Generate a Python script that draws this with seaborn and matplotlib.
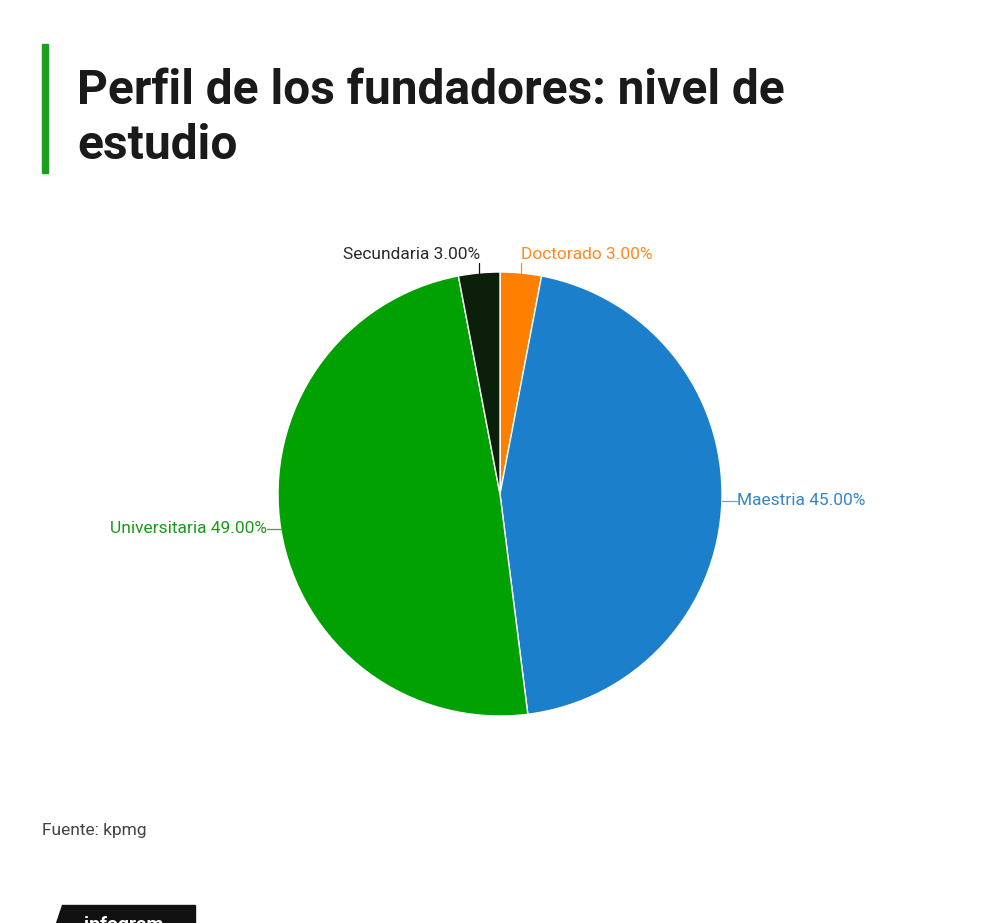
import numpy as np
import matplotlib
matplotlib.use("Agg")
import matplotlib.pyplot as plt
import seaborn as sns
from matplotlib.patches import Polygon, Rectangle

# data
categories = ["Doctorado", "Maestria", "Universitaria", "Secundaria"]
shares = [3.00, 45.00, 49.00, 3.00]
colors = ["#ff7f00", "#1b7fcc", "#00a100", "#0b1f0b"]
label_colors = ["#ff8a1f", "#3585c8", "#1a9a1a", "#2b2b2b"]
tick_colors = ["#ff8a1f", "#7f9fbf", "#5a8a5a", "#111111"]

sns.set_theme(style="white")
plt.rcParams["font.family"] = ["Roboto", "DejaVu Sans"]

fig = plt.figure(figsize=(10, 9.23), dpi=100)
fig.patch.set_facecolor("white")

# title block
fig.patches.append(Rectangle((42 / 1000, 1 - 173 / 923), 6 / 1000, 129 / 923,
                             transform=fig.transFigure, color="#1e9e1e"))
fig.text(0.077, 1 - 104 / 923, "Perfil de los fundadores: nivel de", fontsize=34.5,
         fontweight="bold", color="#1a1a1a", va="baseline")
fig.text(0.077, 1 - 159 / 923, "estudio", fontsize=34.5,
         fontweight="bold", color="#1a1a1a", va="baseline")

# pie
ax = fig.add_axes([0.278, 1 - 716 / 923, 0.444, 444 / 923])
wedges, _ = ax.pie(shares, colors=colors, startangle=90, counterclock=False,
                   wedgeprops=dict(edgecolor="white", linewidth=1))
ax.set_aspect("equal")
ax.set_xlim(-1, 1)
ax.set_ylim(-1, 1)
ax.axis("off")

for w, cat, val, lc, tc in zip(wedges, categories, shares, label_colors, tick_colors):
    ang = np.deg2rad((w.theta1 + w.theta2) / 2)
    x, y = np.cos(ang), np.sin(ang)
    txt = f"{cat} {val:.2f}%"
    if abs(y) > 0.9:
        # short vertical tick above the small top slices
        ax.plot([x, x], [y, y + 0.045], color=tc, lw=0.9, clip_on=False)
        ha = "right" if x < 0 else "left"
        ax.text(x + (0.005 if x < 0 else 0.0), y + 0.05, txt, ha=ha, va="bottom",
                fontsize=12.5, color=lc)
    else:
        dx = 0.068 if x > 0 else -0.06
        ax.plot([x, x + dx], [y, y], color=tc, lw=0.9, clip_on=False)
        ha = "left" if x > 0 else "right"
        ax.text(x + dx, y, txt, ha=ha, va="center", fontsize=12.5, color=lc)

# footer
fig.text(0.042, 1 - 835 / 923, "Fuente: kpmg", fontsize=12.5, color="#444444",
         va="baseline")
fig.patches.append(Polygon([(62 / 1000, 1 - 905 / 923), (195 / 1000, 1 - 905 / 923),
                            (195 / 1000, -0.02), (50 / 1000, -0.02)],
                           closed=True, transform=fig.transFigure, color="#111111"))
fig.text(0.124, 1 - 930 / 923, "infogram", fontsize=14, fontweight="bold",
         color="white", ha="center", va="baseline")

fig.savefig("out.png", dpi=100, facecolor="white")
